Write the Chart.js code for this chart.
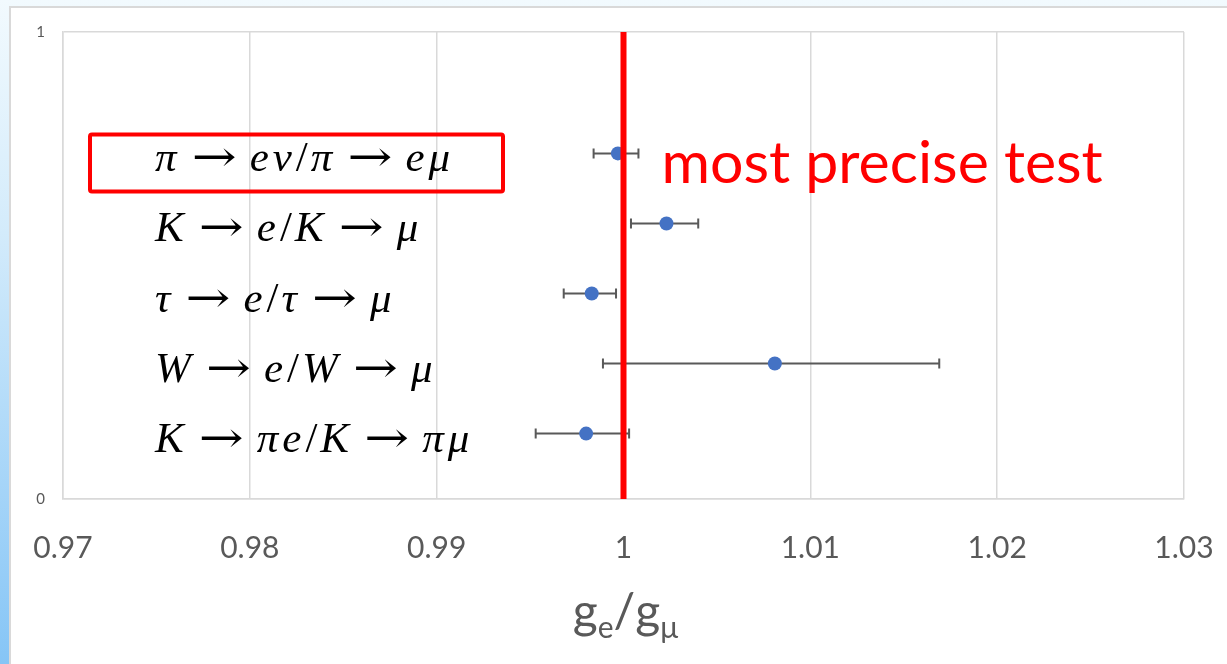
<!DOCTYPE html>
<html>
<head>
<meta charset="utf-8">
<title>ge/gmu lepton universality</title>
<script src="https://cdn.jsdelivr.net/npm/chart.js"></script>
<style>
  html, body { margin: 0; padding: 0; }
  body { width: 1227px; height: 664px; overflow: hidden; position: relative;
         background: linear-gradient(to bottom, #f2fafe 0%, #d3ebfb 35%, #86c5f6 100%); }
  #panel { position: absolute; left: 9px; top: 6px; right: 0; bottom: 0; background: #fff;
           border-top: 2px solid #d9d9d9; border-left: 2px solid #d9d9d9; }
  #chart { position: absolute; left: 0; top: 0; }
</style>
</head>
<body>
<div id="panel"></div>
<canvas id="chart" width="1227" height="664"></canvas>
<script>
// decay channels, top to bottom
const channels = ['π → eν/π → eμ', 'K → e/K → μ', 'τ → e/τ → μ', 'W → e/W → μ', 'K → πe/K → πμ'];
const rowY = [0.74, 0.59, 0.44, 0.29, 0.14];
const ratio = [0.9997, 1.0023, 0.9983, 1.0081, 0.9980];
const errLow = [0.0013, 0.0019, 0.0015, 0.0092, 0.0027];
const errHigh = [0.0011, 0.0017, 0.0013, 0.0088, 0.0023];
const xTicks = [0.97, 0.98, 0.99, 1, 1.01, 1.02, 1.03];
const yTicks = [0, 1];
const refValue = 1;          // lepton universality
const highlight = 0;         // boxed channel
const note = 'most precise test';

const grey = '#595959';
const gridCol = '#d9d9d9';

// draw a math-ish label: letters italic, long arrows with spacing, slash upright
function drawMath(ctx, str, x, y, size) {
  let cx = x;
  for (const ch of str) {
    if (ch === ' ') continue;
    if (ch === '→') {
      ctx.font = size + 'px "DejaVu Serif"';
      const w = ctx.measureText(ch).width;
      cx += size * 0.26;
      ctx.save();
      ctx.translate(cx, y);
      ctx.scale(1.25, 1);
      ctx.fillText(ch, 0, 0);
      ctx.restore();
      cx += w * 1.25 + size * 0.3;
    } else if (ch === '/') {
      ctx.font = size + 'px "Liberation Serif"';
      ctx.fillText(ch, cx, y);
      cx += ctx.measureText(ch).width + 3;
    } else {
      ctx.font = 'italic ' + size + 'px "Liberation Serif"';
      ctx.fillText(ch, cx, y);
      cx += ctx.measureText(ch).width + 4;
    }
  }
  return cx;
}

const overlay = {
  id: 'overlay',
  beforeDatasetsDraw(chart) {
    const ctx = chart.ctx, xs = chart.scales.x, ys = chart.scales.y;
    ctx.save();
    ctx.strokeStyle = grey;
    ctx.lineWidth = 2;
    ratio.forEach((v, i) => {
      const y = ys.getPixelForValue(rowY[i]);
      const x1 = xs.getPixelForValue(v - errLow[i]);
      const x2 = xs.getPixelForValue(v + errHigh[i]);
      ctx.beginPath();
      ctx.moveTo(x1, y); ctx.lineTo(x2, y);
      ctx.moveTo(x1, y - 5); ctx.lineTo(x1, y + 5);
      ctx.moveTo(x2, y - 5); ctx.lineTo(x2, y + 5);
      ctx.stroke();
    });
    ctx.restore();
  },
  afterDatasetsDraw(chart) {
    const ctx = chart.ctx, ys = chart.scales.y, xs = chart.scales.x;
    ctx.save();
    ctx.fillStyle = '#000';
    ctx.textBaseline = 'alphabetic';
    channels.forEach((c, i) => {
      const y = ys.getPixelForValue(rowY[i]);
      drawMath(ctx, c, 155, y + 18, 43);
    });
    // box around the highlighted channel
    const hy = ys.getPixelForValue(rowY[highlight]);
    ctx.strokeStyle = '#ff0000';
    ctx.lineWidth = 4;
    ctx.beginPath();
    ctx.roundRect(90, hy - 19, 413, 57, 2);
    ctx.stroke();
    // annotation
    ctx.fillStyle = '#ff0000';
    ctx.font = '59px Lato';
    ctx.fillText(note, xs.getPixelForValue(refValue) + 38, hy + 30);
    ctx.restore();
  },
  afterDraw(chart) {
    // x axis title g_e/g_mu
    const ctx = chart.ctx, a = chart.chartArea;
    const parts = [['g', 48, 0], ['e', 30, 10], ['/', 48, 0], ['g', 48, 0], ['μ', 30, 10]];
    ctx.save();
    ctx.fillStyle = grey;
    let w = 0;
    parts.forEach(p => { ctx.font = p[1] + 'px Lato'; w += ctx.measureText(p[0]).width; });
    let x = (a.left + a.right) / 2 - w / 2 + 2;
    const base = 628;
    parts.forEach(p => {
      ctx.font = p[1] + 'px Lato';
      ctx.fillText(p[0], x, base + p[2]);
      x += ctx.measureText(p[0]).width;
    });
    ctx.restore();
  }
};

new Chart(document.getElementById('chart'), {
  type: 'scatter',
  data: {
    datasets: [
      {
        label: 'g_e/g_mu = 1',
        data: [{ x: refValue, y: 0 }, { x: refValue, y: 1 }],
        showLine: true,
        borderColor: '#ff0000',
        borderWidth: 6,
        pointRadius: 0,
        order: 0
      },
      {
        label: 'measurements',
        data: ratio.map((v, i) => ({ x: v, y: rowY[i] })),
        pointRadius: 7,
        pointBackgroundColor: '#4472c4',
        pointBorderWidth: 0,
        order: 1
      }
    ]
  },
  options: {
    responsive: false,
    animation: false,
    layout: { padding: { top: 32, right: 43, left: 0, bottom: 0 } },
    plugins: { legend: { display: false }, tooltip: { enabled: false } },
    scales: {
      x: {
        type: 'linear', min: 0.97, max: 1.03,
        afterBuildTicks: s => { s.ticks = xTicks.map(v => ({ value: v })); },
        afterFit: s => { s.height = 165; s.paddingLeft = 0; s.paddingRight = 0; },
        ticks: { color: grey, font: { family: 'Lato', size: 30 }, padding: 31,
                 callback: v => String(Number(v.toFixed(2))) },
        grid: { color: gridCol, lineWidth: 1.5, drawTicks: false },
        border: { color: gridCol, width: 1.5 }
      },
      y: {
        type: 'linear', min: 0, max: 1,
        afterBuildTicks: s => { s.ticks = yTicks.map(v => ({ value: v })); },
        afterFit: s => { s.width = 63; s.paddingTop = 0; s.paddingBottom = 0; },
        ticks: { color: grey, font: { family: 'Lato', size: 15 }, padding: 18 },
        grid: { color: gridCol, lineWidth: 1.5, drawTicks: false },
        border: { color: gridCol, width: 1.5 }
      }
    }
  },
  plugins: [overlay]
});
</script>
</body>
</html>
